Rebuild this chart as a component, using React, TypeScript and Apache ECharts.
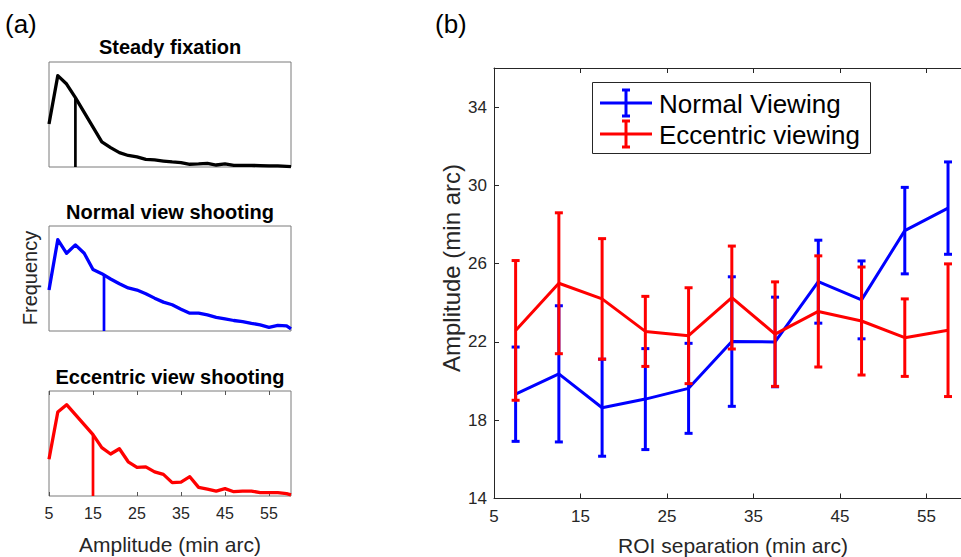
import React, { useEffect, useRef } from "react";
import * as echarts from "echarts";

// ---------- Panel (a): amplitude histograms ----------
const ampBins = [5, 7, 9, 11, 13, 15, 17, 19, 21, 23, 25, 27, 29, 31, 33, 35, 37, 39, 41, 43, 45, 47, 49, 51, 53, 55, 57, 59, 60];
const steadyFreq = [0.41, 0.87, 0.79, 0.66, 0.52, 0.38, 0.24, 0.185, 0.137, 0.11, 0.096, 0.073, 0.067, 0.057, 0.048, 0.042, 0.026, 0.029, 0.035, 0.019, 0.029, 0.016, 0.016, 0.016, 0.013, 0.01, 0.01, 0.006, 0.003];
const normalFreq = [0.39, 0.87, 0.74, 0.82, 0.74, 0.585, 0.546, 0.495, 0.45, 0.41, 0.39, 0.355, 0.313, 0.275, 0.25, 0.208, 0.17, 0.17, 0.153, 0.13, 0.115, 0.1, 0.09, 0.073, 0.058, 0.035, 0.054, 0.048, 0.02];
const eccentricFreq = [0.35, 0.8, 0.87, 0.775, 0.68, 0.585, 0.46, 0.4, 0.45, 0.326, 0.272, 0.278, 0.23, 0.206, 0.127, 0.133, 0.184, 0.082, 0.066, 0.047, 0.07, 0.041, 0.047, 0.047, 0.032, 0.032, 0.032, 0.022, 0.01];
const panelTitles = ["Steady fixation", "Normal view shooting", "Eccentric view shooting"];
const panelColors = ["#000000", "#0000ff", "#ff0000"];
const meanAmp = [11, 17.5, 15];
const meanFreq = [0.66, 0.53, 0.58];
const ampTicks = [5, 15, 25, 35, 45, 55];

// ---------- Panel (b): amplitude vs ROI separation ----------
const roiSep = [7.5, 12.5, 17.5, 22.5, 27.5, 32.5, 37.5, 42.5, 47.5, 52.5, 57.5];
const normalAmp = [19.33, 20.37, 18.64, 19.08, 19.63, 22.02, 22.0, 25.08, 24.15, 27.69, 28.84];
const normalErr = [2.41, 3.48, 2.48, 2.58, 2.3, 3.31, 2.29, 2.12, 1.99, 2.21, 2.36];
const eccentricAmp = [22.59, 25.0, 24.2, 22.54, 22.32, 24.27, 22.4, 23.56, 23.07, 22.22, 22.6];
const eccentricErr = [3.57, 3.6, 3.08, 1.79, 2.45, 2.63, 2.67, 2.84, 2.76, 1.98, 3.39];
const roiTicks = [5, 15, 25, 35, 45, 55];
const ampYTicks = [14, 18, 22, 26, 30, 34];
const legendNames = ["Normal Viewing", "Eccentric viewing"];

const FONT = "'Liberation Sans', Arial, Helvetica, sans-serif";
const AXIS_TXT = "#262626";
const BLUE = "#0000ff";
const RED = "#ff0000";

const errorBarRenderer = (color: string) => (params: any, api: any) => {
  const x = api.value(0);
  const lo = api.value(1);
  const hi = api.value(2);
  const a = api.coord([x, lo]);
  const b = api.coord([x, hi]);
  const hw = 4;
  const style = { stroke: color, lineWidth: 3, fill: "none" };
  return {
    type: "group",
    children: [
      { type: "line", shape: { x1: a[0], y1: a[1], x2: b[0], y2: b[1] }, style },
      { type: "line", shape: { x1: a[0] - hw, y1: a[1], x2: a[0] + hw, y2: a[1] }, style },
      { type: "line", shape: { x1: b[0] - hw, y1: b[1], x2: b[0] + hw, y2: b[1] }, style },
    ],
  };
};

export default function App() {
  const ref = useRef<HTMLDivElement>(null);

  useEffect(() => {
    document.body.style.margin = "0";
    if (!ref.current) return;
    const chart = echarts.init(ref.current, undefined, { renderer: "svg" });

    const histData = [steadyFreq, normalFreq, eccentricFreq];
    const panelTops = [62, 226, 391];

    const grids: any[] = panelTops.map((t) => ({
      left: 49,
      top: t,
      width: 242,
      height: 105,
      show: true,
      borderColor: "#7a7a7a",
      borderWidth: 1,
      backgroundColor: "transparent",
      containLabel: false,
    }));
    grids.push({ left: 494, top: 68, right: 0, height: 430.5, containLabel: false });

    const hiddenX = (g: number) => ({
      type: "value", gridIndex: g, min: 5, max: 60, show: false, splitLine: { show: false },
    });
    const tickLine = { color: "#555", width: 1 };

    const xAxes: any[] = [
      hiddenX(0),
      hiddenX(1),
      {
        type: "value", gridIndex: 2, min: 5, max: 60,
        axisLine: { show: false },
        axisTick: { show: true, inside: true, length: 4, customValues: ampTicks, lineStyle: tickLine },
        axisLabel: { show: true, customValues: ampTicks, fontSize: 16, fontFamily: FONT, color: AXIS_TXT, margin: 9 },
        splitLine: { show: false },
      },
      {
        type: "value", gridIndex: 2, min: 5, max: 60, position: "top",
        axisLine: { show: false },
        axisTick: { show: true, inside: true, length: 4, customValues: ampTicks, lineStyle: tickLine },
        axisLabel: { show: false },
        splitLine: { show: false },
      },
      {
        type: "value", gridIndex: 3, min: 5, max: 59,
        axisLine: { show: true, lineStyle: { color: AXIS_TXT, width: 1 } },
        axisTick: { show: true, inside: true, length: 5, customValues: roiTicks, lineStyle: { color: AXIS_TXT } },
        axisLabel: { show: true, customValues: roiTicks, fontSize: 17, fontFamily: FONT, color: AXIS_TXT, margin: 9 },
        splitLine: { show: false },
      },
      {
        type: "value", gridIndex: 3, min: 5, max: 59, position: "top",
        axisLine: { show: true, lineStyle: { color: AXIS_TXT, width: 1 } },
        axisTick: { show: true, inside: true, length: 5, customValues: roiTicks, lineStyle: { color: AXIS_TXT } },
        axisLabel: { show: false },
        splitLine: { show: false },
      },
    ];

    const yAxes: any[] = [0, 1, 2].map((g) => ({
      type: "value", gridIndex: g, min: 0, max: 1, show: false, splitLine: { show: false },
    }));
    yAxes.push({
      type: "value", gridIndex: 3, min: 14, max: 36,
      axisLine: { show: true, lineStyle: { color: AXIS_TXT, width: 1 } },
      axisTick: { show: true, inside: true, length: 5, customValues: ampYTicks, lineStyle: { color: AXIS_TXT } },
      axisLabel: { show: true, customValues: ampYTicks, fontSize: 17, fontFamily: FONT, color: AXIS_TXT, margin: 7 },
      splitLine: { show: false },
    });

    const series: any[] = [];
    histData.forEach((arr, i) => {
      series.push({
        type: "line",
        xAxisIndex: i,
        yAxisIndex: i,
        data: ampBins.map((x, k) => [x, arr[k]]),
        symbol: "none",
        lineStyle: { color: panelColors[i], width: 3.3, join: "round" },
        silent: true,
      });
      series.push({
        type: "line",
        xAxisIndex: i,
        yAxisIndex: i,
        data: [[meanAmp[i], 0], [meanAmp[i], meanFreq[i]]],
        symbol: "none",
        lineStyle: { color: panelColors[i], width: 2.7 },
        silent: true,
      });
    });

    series.push({
      type: "custom",
      xAxisIndex: 4,
      yAxisIndex: 3,
      renderItem: errorBarRenderer(BLUE),
      encode: { x: 0, y: [1, 2] },
      data: roiSep.map((x, i) => [x, normalAmp[i] - normalErr[i], normalAmp[i] + normalErr[i]]),
      silent: true,
      z: 3,
    });
    series.push({
      type: "line",
      xAxisIndex: 4,
      yAxisIndex: 3,
      data: roiSep.map((x, i) => [x, normalAmp[i]]),
      symbol: "none",
      lineStyle: { color: BLUE, width: 3, join: "round" },
      silent: true,
      z: 3,
    });
    series.push({
      type: "custom",
      xAxisIndex: 4,
      yAxisIndex: 3,
      renderItem: errorBarRenderer(RED),
      encode: { x: 0, y: [1, 2] },
      data: roiSep.map((x, i) => [x, eccentricAmp[i] - eccentricErr[i], eccentricAmp[i] + eccentricErr[i]]),
      silent: true,
      z: 4,
    });
    series.push({
      type: "line",
      xAxisIndex: 4,
      yAxisIndex: 3,
      data: roiSep.map((x, i) => [x, eccentricAmp[i]]),
      symbol: "none",
      lineStyle: { color: RED, width: 3, join: "round" },
      silent: true,
      z: 4,
    });

    const titleY = [47, 212, 377];
    const graphic: any[] = [
      { type: "text", x: 5, y: 24, style: { text: "(a)", font: `26px ${FONT}`, fill: "#000", align: "left", verticalAlign: "middle" } },
      { type: "text", x: 435, y: 24, style: { text: "(b)", font: `26px ${FONT}`, fill: "#000", align: "left", verticalAlign: "middle" } },
      ...panelTitles.map((t, i) => ({
        type: "text", x: 170, y: titleY[i],
        style: { text: t, font: `bold 20px ${FONT}`, fill: "#000", align: "center", verticalAlign: "middle" },
      })),
      { type: "text", x: 30, y: 278, rotation: Math.PI / 2, style: { text: "Frequency", font: `20px ${FONT}`, fill: AXIS_TXT, align: "center", verticalAlign: "middle" } },
      { type: "text", x: 170, y: 544, style: { text: "Amplitude (min arc)", font: `21px ${FONT}`, fill: AXIS_TXT, align: "center", verticalAlign: "middle" } },
      { type: "text", x: 733, y: 545, style: { text: "ROI separation (min arc)", font: `21px ${FONT}`, fill: AXIS_TXT, align: "center", verticalAlign: "middle" } },
      { type: "text", x: 451, y: 268, rotation: Math.PI / 2, style: { text: "Amplitude (min arc)", font: `24px ${FONT}`, fill: AXIS_TXT, align: "center", verticalAlign: "middle" } },
      // legend
      { type: "rect", shape: { x: 592.5, y: 82.5, width: 278, height: 71 }, style: { fill: "#fff", stroke: AXIS_TXT, lineWidth: 1 }, z: 10 },
      { type: "line", shape: { x1: 600, y1: 103, x2: 652, y2: 103 }, style: { stroke: BLUE, lineWidth: 3 }, z: 11 },
      { type: "line", shape: { x1: 626, y1: 90, x2: 626, y2: 116 }, style: { stroke: BLUE, lineWidth: 3 }, z: 11 },
      { type: "line", shape: { x1: 622, y1: 90, x2: 630, y2: 90 }, style: { stroke: BLUE, lineWidth: 3 }, z: 11 },
      { type: "line", shape: { x1: 622, y1: 116, x2: 630, y2: 116 }, style: { stroke: BLUE, lineWidth: 3 }, z: 11 },
      { type: "line", shape: { x1: 600, y1: 134, x2: 652, y2: 134 }, style: { stroke: RED, lineWidth: 3 }, z: 11 },
      { type: "line", shape: { x1: 626, y1: 121, x2: 626, y2: 147 }, style: { stroke: RED, lineWidth: 3 }, z: 11 },
      { type: "line", shape: { x1: 622, y1: 121, x2: 630, y2: 121 }, style: { stroke: RED, lineWidth: 3 }, z: 11 },
      { type: "line", shape: { x1: 622, y1: 147, x2: 630, y2: 147 }, style: { stroke: RED, lineWidth: 3 }, z: 11 },
      { type: "text", x: 659, y: 104, z: 11, style: { text: legendNames[0], font: `26px ${FONT}`, fill: "#000", align: "left", verticalAlign: "middle" } },
      { type: "text", x: 659, y: 135, z: 11, style: { text: legendNames[1], font: `26px ${FONT}`, fill: "#000", align: "left", verticalAlign: "middle" } },
    ];

    chart.setOption({
      animation: false,
      backgroundColor: "#ffffff",
      grid: grids,
      xAxis: xAxes,
      yAxis: yAxes,
      series,
      graphic,
    });

    return () => chart.dispose();
  }, []);

  return (
    <div
      ref={ref}
      style={{ position: "fixed", left: 0, top: 0, width: 961, height: 557, background: "#fff" }}
    />
  );
}
